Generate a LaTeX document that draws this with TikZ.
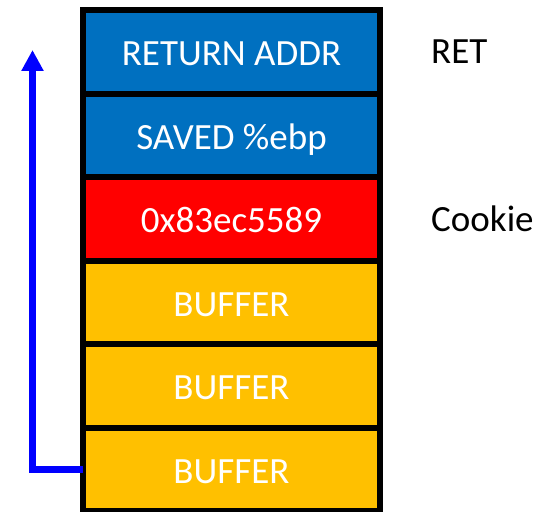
\documentclass[tikz,border=0pt]{standalone}
\usepackage{fontspec}
\setmainfont{Carlito}
\usepackage{tikz}
\usetikzlibrary{shapes,arrows.meta,positioning}

\definecolor{stackblue}{HTML}{0070C0}
\definecolor{stackred}{HTML}{FF0000}
\definecolor{stackgold}{HTML}{FFC000}
\definecolor{jumpblue}{HTML}{0000FF}

\begin{document}
\begin{tikzpicture}[x=1pt, y=1pt, node distance = 83.5pt,
    slot/.style={draw=black, line width=6pt, outer sep=0pt,
      minimum width=297pt, minimum height=83.5pt, text=white,
      text height=27.5pt, text depth=0pt,
      font=\fontsize{37}{44}\selectfont},
    tag/.style={inner sep=0pt, text=black, font=\fontsize{37}{44}\selectfont},
    jump/.style={draw=jumpblue, line width=7pt, line join=miter,
      -{Triangle[length=21pt, width=21pt]}}]
    \useasboundingbox (0,0) rectangle (556,511);
    \node[slot, fill=stackblue] (ret) at (231.5,458.95) {RETURN ADDR};
    \node[slot, fill=stackblue] (ebp) [below of=ret] {SAVED \%ebp};
    \node[slot, fill=stackred] (cookie) [below of=ebp] {0x83ec5589};
    \node[slot, fill=stackgold] (buf3) [below of=cookie] {BUFFER};
    \node[slot, fill=stackgold] (buf2) [below of=buf3] {BUFFER};
    \node[slot, fill=stackgold] (buf1) [below of=buf2] {BUFFER};
    \node[tag, anchor=west] (rettag) [right=51pt of ret] {RET};
    \node[tag, anchor=west] (cookietag) [right=51pt of cookie] {Cookie};
    \coordinate (top) at (32.5,461);
    \draw[jump] (buf1.west) -| (top);
  \end{tikzpicture}
\end{document}
